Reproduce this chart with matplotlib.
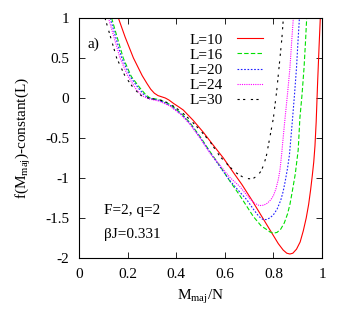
import matplotlib
matplotlib.use("Agg")
import matplotlib.pyplot as plt
from matplotlib.ticker import FormatStrFormatter

plt.rcParams['font.family'] = ['Liberation Serif', 'DejaVu Serif']
plt.rcParams['mathtext.fontset'] = 'custom'
plt.rcParams['mathtext.rm'] = 'Liberation Serif'
plt.rcParams['mathtext.it'] = 'Liberation Serif:italic'
plt.rcParams['axes.unicode_minus'] = False

# 讀圖估計的曲線資料 (x = M_maj/N, y = f - constant)
x10 = [0.162, 0.19, 0.224, 0.26, 0.28, 0.295, 0.31, 0.325, 0.34, 0.355, 0.37, 0.39,
       0.41, 0.429, 0.47, 0.512, 0.55, 0.594, 0.635, 0.67, 0.71, 0.75, 0.78, 0.80,
       0.82, 0.84, 0.855, 0.868, 0.88, 0.895, 0.91, 0.923, 0.935, 0.945, 0.953, 0.96,
       0.966, 0.971, 0.976, 0.982, 0.988, 0.993]
y10 = [1.0, 0.76, 0.5, 0.28, 0.18, 0.11, 0.06, 0.03, 0.015, 0.0, -0.025, -0.07,
       -0.11, -0.15, -0.28, -0.43, -0.58, -0.75, -0.93, -1.08, -1.27, -1.47, -1.62, -1.72,
       -1.82, -1.9, -1.94, -1.95, -1.94, -1.89, -1.8, -1.66, -1.5, -1.33, -1.15, -0.97,
       -0.8, -0.6, -0.3, 0.2, 0.65, 1.0]

x16 = [0.134, 0.182, 0.215, 0.251, 0.275, 0.292, 0.33, 0.374, 0.42, 0.457, 0.5, 0.539,
       0.58, 0.621, 0.66, 0.717, 0.75, 0.77, 0.786, 0.80, 0.815, 0.83, 0.845, 0.858,
       0.868, 0.877, 0.89, 0.902, 0.909, 0.918, 0.926, 0.932, 0.937]
y16 = [1.0, 0.5, 0.27, 0.125, 0.04, 0.0, -0.02, -0.08, -0.19, -0.31, -0.49, -0.67,
       -0.85, -1.04, -1.21, -1.48, -1.6, -1.64, -1.675, -1.69, -1.68, -1.64, -1.56, -1.45,
       -1.33, -1.18, -0.95, -0.65, -0.25, 0.05, 0.375, 0.7, 1.0]

x20 = [0.128, 0.176, 0.21, 0.244, 0.268, 0.285, 0.33, 0.374, 0.42, 0.457, 0.5, 0.539,
       0.58, 0.62, 0.66, 0.69, 0.72, 0.74, 0.755, 0.77, 0.785, 0.80, 0.815, 0.83,
       0.84, 0.848, 0.858, 0.866, 0.872, 0.879, 0.887, 0.895, 0.901, 0.907]
y20 = [1.0, 0.5, 0.27, 0.125, 0.04, 0.0, -0.03, -0.09, -0.2, -0.32, -0.5, -0.68,
       -0.86, -1.03, -1.17, -1.27, -1.4, -1.48, -1.515, -1.52, -1.5, -1.46, -1.39, -1.28,
       -1.17, -1.05, -0.88, -0.71, -0.5, -0.25, 0.05, 0.375, 0.7, 1.0]

x24 = [0.121, 0.169, 0.2, 0.237, 0.265, 0.285, 0.33, 0.374, 0.42, 0.457, 0.5, 0.539,
       0.58, 0.62, 0.663, 0.70, 0.72, 0.742, 0.76, 0.775, 0.79, 0.80, 0.81, 0.82,
       0.827, 0.834, 0.84, 0.848, 0.858, 0.868, 0.875, 0.882]
y24 = [1.0, 0.5, 0.28, 0.1, 0.02, -0.01, -0.04, -0.1, -0.21, -0.33, -0.51, -0.69,
       -0.84, -0.99, -1.11, -1.25, -1.31, -1.345, -1.34, -1.315, -1.27, -1.22, -1.14, -1.02,
       -0.9, -0.7, -0.5, -0.25, 0.05, 0.375, 0.7, 1.0]

x30 = [0.107, 0.155, 0.19, 0.224, 0.245, 0.26, 0.3, 0.34, 0.374, 0.42, 0.46, 0.498,
       0.54, 0.58, 0.62, 0.649, 0.675, 0.70, 0.72, 0.735, 0.75, 0.762, 0.772, 0.786,
       0.80, 0.814, 0.827, 0.835, 0.841]
y30 = [1.0, 0.5, 0.27, 0.125, 0.06, 0.02, -0.01, -0.03, -0.07, -0.17, -0.28, -0.4,
       -0.55, -0.73, -0.86, -0.94, -0.99, -1.01, -1.0, -0.97, -0.91, -0.82, -0.71, -0.48,
       -0.25, 0.1, 0.5, 0.75, 1.0]

fig = plt.figure(figsize=(3.52, 3.27), dpi=100)
ax = fig.add_axes([0.2244, 0.211, 0.6904, 0.734])

lw = 0.8
ax.plot(x10, y10, color='#ff0000', lw=lw, ls='-', label='L=10')
ax.plot(x16, y16, color='#00e000', lw=lw, ls=(0, (4, 2)), label='L=16')
ax.plot(x20, y20, color='#2020ff', lw=lw, ls=(0, (1.5, 1.5)), label='L=20')
ax.plot(x24, y24, color='#ff00ff', lw=lw, ls=(0, (1, 1)), label='L=24')
ax.plot(x30, y30, color='#000000', lw=lw, ls=(0, (2, 3, 2, 5)), label='L=30')

ax.set_xlim(0, 1)
ax.set_ylim(-2, 1)
ax.set_xticks([0, 0.2, 0.4, 0.6, 0.8, 1])
ax.set_yticks([-2, -1.5, -1, -0.5, 0, 0.5, 1])
ax.xaxis.set_major_formatter(FormatStrFormatter('%g'))
ax.yaxis.set_major_formatter(FormatStrFormatter('%g'))
ax.tick_params(direction='in', top=True, right=True, length=4, width=0.6,
               labelsize=11, pad=7)
for s in ax.spines.values():
    s.set_linewidth(0.8)

ax.set_xlabel(r'M$_{\mathrm{maj}}$/N', fontsize=11, labelpad=5)
ax.set_ylabel(r'f(M$_{\mathrm{maj}}$)-constant(L)', fontsize=11, labelpad=9)

ax.text(0.033, 0.89, 'a)', transform=ax.transAxes, fontsize=11, va='center')
ax.text(0.103, 0.196, 'F=2, q=2', transform=ax.transAxes, fontsize=11, va='center')
ax.text(0.103, 0.097, 'βJ=0.331', transform=ax.transAxes, fontsize=11, va='center')

ax.legend(loc='upper left', bbox_to_anchor=(0.425, 0.97), frameon=False,
          markerfirst=False, fontsize=11, handlelength=1.7, handletextpad=0.9,
          labelspacing=0.1, borderpad=0)

plt.savefig("out.png", dpi=100)
plt.close()
